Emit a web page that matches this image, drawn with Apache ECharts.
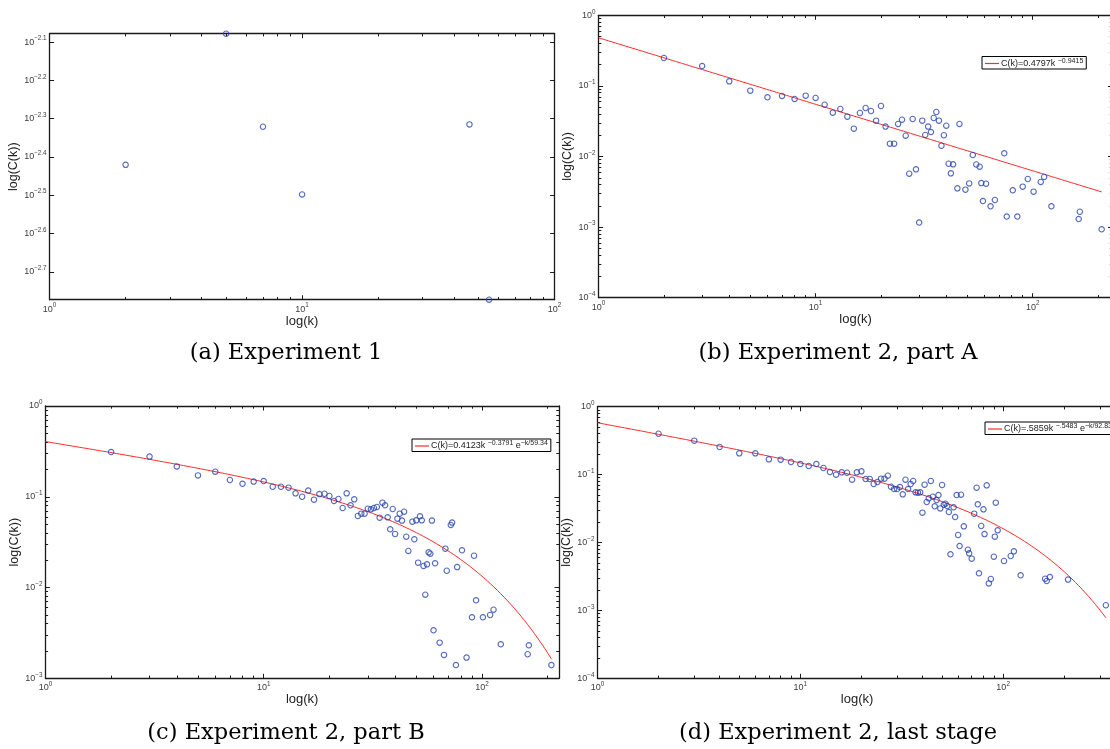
<!DOCTYPE html>
<html><head><meta charset="utf-8">
<script src="https://cdn.jsdelivr.net/npm/echarts@6/dist/echarts.min.js"></script>
<style>html,body{margin:0;padding:0;background:#fff}#c{width:1110px;height:749px}</style>
</head><body><div id="c"></div>
<script>
// ================= DATA =================
// (a) Experiment 1
const kA = [2, 5, 7, 10, 46, 55];
const cA = [0.003797, 0.008356, 0.004775, 0.003177, 0.004842, 0.001687];

// (b) Experiment 2, part A
const kB = [2,3,4,5,6,7,8,9,10,11,12,13,14,15,16,17,18,19,20,21,22,23,24,25,26,27,28,29,30,31,32,33,34,35,36,37,38,39,40,41,42,43,
  45,46,49,51,53,55,57,58,59,61,64,67,74,76,81,85,90,95,101,109,113,122,163,165,208];
const cB = [0.2486,0.191,0.116,0.0857,0.0689,0.072,0.0653,0.0728,0.0675,0.0542,0.0418,0.0471,0.0367,0.0248,0.0413,0.0486,0.0441,0.0322,0.0519,0.0265,
  0.0152,0.0152,0.0289,0.0332,0.0197,0.00571,0.034,0.00658,0.00116,0.0322,0.0202,0.0265,0.0222,0.0351,0.0427,0.0322,0.0142,0.0200,0.0273,0.0079,
  0.00577,0.00774,0.00354,0.0289,0.00339,0.00416,0.0105,0.0077,0.00717,0.0042,0.00234,0.00412,0.00197,0.00242,0.0111,0.00141,0.00332,0.00141,
  0.00374,0.0048,0.00318,0.00436,0.00513,0.00197,0.0013,0.00165,0.00093];

// (c) Experiment 2, part B
const kC = [2,3,4,5,6,7,8,9,10,11,12,13,14,15,16,17,18,19,20,21,22,23,24,25,26,27,28,29,30,31,32,33,34,35,36,37,38,39,40,41,42,43,44,45,46,
  48,49,50,51,52,53,54,55,56,57,58,59,60,61,64,67,68,69,72,73,76,77,81,85,90,92,94,101,109,113,122,162,164,208];
const cC = [0.311,0.277,0.216,0.172,0.189,0.153,0.139,0.147,0.149,0.129,0.129,0.126,0.109,0.100,0.117,0.0929,0.107,0.108,0.102,0.0898,
  0.0945,0.0752,0.109,0.0805,0.0937,0.0614,0.0652,0.0652,0.0739,0.0727,0.0752,0.0771,0.0589,0.0861,0.0805,0.0593,0.0438,0.0733,0.0389,0.0574,
  0.0652,0.0546,0.0685,0.0363,0.0253,
  0.0532,0.0340,0.0550,0.0188,0.0609,0.0550,0.0173,0.00834,0.018,0.0244,0.0236,0.0546,0.00338,0.0185,0.00247,0.00181,0.0268,0.0153,0.0489,
  0.0519,0.0014,0.0168,0.0257,0.00169,0.0047,0.0224,0.00723,0.0047,0.00498,0.0057,0.00237,0.00184,0.00231,0.0014];

// (d) Experiment 2, last stage
const kD = [2,3,4,5,6,7,8,9,10,11,12,13,14,15,16,17,18,19,20,21,22,23,24,25,26,27,28,29,30,31,32,33,34,35,36,37,38,39,40,41,42,43,44,45,46,
  47,48,49,50,51,52,53,54,55,
  57,58,59,60,61,62,64,67,68,70,72,74,75,76,78,80,81,83,85,87,90,91,92,94,101,109,113,122,161,164,170,209,321];
const cD = [0.40,0.316,0.255,0.2055,0.2055,0.1677,0.166,0.1532,0.143,0.1338,0.143,0.125,0.109,0.0997,0.108,0.1067,0.0841,0.108,0.1117,0.0861,
  0.0861,0.0727,0.0778,0.0871,0.0871,0.0964,0.0664,0.0613,0.0613,0.0656,0.0512,0.0841,0.0613,0.0727,0.0805,0.0548,0.0542,0.0548,0.0275,0.0711,
  0.0395,0.0447,0.0805,0.0473,0.0341,0.0422,0.05,0.0318,0.0703,0.036,0.0373,0.0345,0.0281,0.0067,
  0.033,0.0237,0.05,0.0129,0.00887,0.0506,0.0173,0.00784,0.00692,0.00578,0.0266,0.0641,0.0365,0.00352,0.0175,0.0308,0.0133,0.0695,0.0025,
  0.0029,0.00618,0.0122,0.0386,0.0151,0.00534,0.00633,0.00741,0.00329,0.00293,0.00271,0.0031,0.00284,0.00119];

// fitted models shown in the legends: C(k) = a * k^(-p) * exp(-k/kc)
const fitB = {a: 0.4797, p: 0.9415, kc: null};
const fitC = {a: 0.4123, p: 0.3791, kc: 59.34};
const fitD = {a: 0.5859, p: 0.5483, kc: 92.83};
const legendB = '{m|C(k)=0.4797k }{s|\u22120.9415}';
const legendC = '{m|C(k)=0.4123k }{s|\u22120.3791}{m| e}{s|\u2212k/59.34}';
const legendD = '{m|C(k)=.5859k }{s|\u2212.5483}{m| e}{s|\u2212k/92.83}';

// tick label exponents (powers of ten)
const xTicksA = [0, 1, 2];
const yTicksA = [-2.1, -2.2, -2.3, -2.4, -2.5, -2.6, -2.7];
const xTicksB = [0, 1, 2];
const yTicksB = [-4, -3, -2, -1, 0];
const xTicksC = [0, 1, 2];
const yTicksC = [-3, -2, -1, 0];
const xTicksD = [0, 1, 2];
const yTicksD = [-4, -3, -2, -1, 0];

const captions = ['(a) Experiment 1', '(b) Experiment 2, part A', '(c) Experiment 2, part B', '(d) Experiment 2, last stage'];

// ================= BUILD =================
const L = Math.log10;
const FONT = 'Liberation Sans';
const AX = '#1a1a1a';
const LBL = '#3c3c3c';

function minorTicks(lo, hi) {
  const out = [];
  for (let n = Math.floor(lo); n < Math.ceil(hi); n++)
    for (let j = 2; j <= 9; j++) { const v = n + L(j); if (v > lo + 1e-9 && v < hi - 1e-9) out.push(v); }
  return out;
}
function expStr(v) {
  const r = Math.round(v * 10) / 10;
  const s = Number.isInteger(r) ? String(r) : r.toFixed(1);
  return s.replace('-', '\u2212');
}
function supLabel(v) { return '{b|10}{s|' + expStr(v) + '}'; }
const richTick = {
  b: {fontSize: 9, color: LBL, fontFamily: FONT},
  s: {fontSize: 6.3, color: LBL, fontFamily: FONT, padding: [0, 0, 7, 0]}
};

function axesFor(dim, g, range, majors, minors, nameCfg) {
  const pos = dim === 'x' ? ['bottom', 'top'] : ['left', 'right'];
  const list = [];
  pos.forEach((p, i) => {
    list.push({
      type: 'value', gridIndex: g, min: range[0], max: range[1], position: p,
      splitLine: {show: false}, silent: true,
      axisLine: {show: true, onZero: false, lineStyle: {color: AX, width: 1.3}},
      axisTick: {show: true, inside: true, length: 4.5, customValues: majors, lineStyle: {color: AX, width: 1}},
      axisLabel: i === 0 ? {show: true, customValues: majors, formatter: supLabel, rich: richTick, margin: 3} : {show: false},
      name: i === 0 ? nameCfg.text : '',
      nameLocation: 'middle', nameGap: nameCfg.gap,
      nameTextStyle: {fontFamily: FONT, fontSize: dim === 'x' ? 13 : 12.5, color: '#222'}
    });
    list.push({
      type: 'value', gridIndex: g, min: range[0], max: range[1], position: p,
      splitLine: {show: false}, silent: true,
      axisLine: {show: false, onZero: false},
      axisTick: {show: minors.length > 0, inside: true, length: 2.7,
                 customValues: minors.length ? minors : [range[0]], lineStyle: {color: AX, width: 1}},
      axisLabel: {show: false}
    });
  });
  return list;
}

function fitPoints(fit, kmax) {
  const pts = [], N = 150;
  for (let i = 0; i <= N; i++) {
    const lk = L(kmax) * i / N, k = Math.pow(10, lk);
    const c = fit.a * Math.pow(k, -fit.p) * (fit.kc ? Math.exp(-k / fit.kc) : 1);
    pts.push([lk, L(c)]);
  }
  return pts;
}
const toLog = (ks, cs) => ks.map((k, i) => [L(k), L(cs[i])]);

const panels = [
  {grid: {left: 49.6, top: 33.7, width: 505, height: 266}, xr: [0, 2], yr: [L(Math.min(...cA)), L(Math.max(...cA))],
   xt: xTicksA, yt: yTicksA, yMinor: false, k: kA, c: cA, fit: null, xGap: 10, yGap: 26},
  {grid: {left: 598.6, top: 15.3, width: 513.9, height: 282.4}, xr: [0, 2.368], yr: [-4, 0],
   xt: xTicksB, yt: yTicksB, yMinor: true, k: kB, c: cB, fit: fitB, name: 'fitB', xGap: 13, yGap: 22},
  {grid: {left: 45.4, top: 406, width: 513.6, height: 272.3}, xr: [0, 2.353], yr: [-3, 0],
   xt: xTicksC, yt: yTicksC, yMinor: true, k: kC, c: cC, fit: fitC, name: 'fitC', xGap: 14, yGap: 22},
  {grid: {left: 597.5, top: 406.7, width: 519.2, height: 271.6}, xr: [0, 2.56], yr: [-4, 0],
   xt: xTicksD, yt: yTicksD, yMinor: true, k: kD, c: cD, fit: fitD, name: 'fitD', xGap: 14, yGap: 21.5}
];

const grids = [], xAxes = [], yAxes = [], series = [];
panels.forEach((P, g) => {
  grids.push(Object.assign({show: false, containLabel: false, outerBoundsMode: 'none'}, P.grid));
  xAxes.push(...axesFor('x', g, P.xr, P.xt, minorTicks(P.xr[0], P.xr[1]), {text: 'log(k)', gap: P.xGap}));
  yAxes.push(...axesFor('y', g, P.yr, P.yt, P.yMinor ? minorTicks(P.yr[0], P.yr[1]) : [], {text: 'log(C(k))', gap: P.yGap}));
  if (P.fit) {
    series.push({
      name: P.name, type: 'line', xAxisIndex: 4 * g, yAxisIndex: 4 * g, data: fitPoints(P.fit, Math.max(...P.k)),
      symbol: 'none', showSymbol: false, clip: false, z: 2,
      lineStyle: {color: '#ff2a2a', width: 1}, itemStyle: {color: '#ff2a2a'}
    });
  }
  series.push({
    type: 'scatter', xAxisIndex: 4 * g, yAxisIndex: 4 * g, data: toLog(P.k, P.c),
    symbol: 'circle', symbolSize: 5.4, clip: false, z: 3,
    itemStyle: {color: 'rgba(0,0,0,0)', borderColor: '#2845b0', borderWidth: 1.1}
  });
});

const legRich = {
  m: {fontSize: 9, fontFamily: FONT, color: '#222', lineHeight: 12},
  s: {fontSize: 7, fontFamily: FONT, color: '#222', padding: [0, 0, 5, 0]}
};
function legendFor(name, text, left, top) {
  return {
    data: [{name: name, icon: 'rect'}], left: left, top: top, orient: 'horizontal', selectedMode: false,
    borderColor: '#000', borderWidth: 1, backgroundColor: '#fff', borderRadius: 0,
    padding: [1, 3, 1, 3], itemWidth: 14, itemHeight: 1.2, itemGap: 0,
    itemStyle: {color: '#ff2a2a', borderWidth: 0},
    formatter: () => text, textStyle: {rich: legRich, padding: [0, 0, 0, -3]}
  };
}

const titlePos = [[286, 342], [838, 342], [286, 722], [838, 722]];
const titles = captions.map((t, i) => ({
  text: t, left: titlePos[i][0], top: titlePos[i][1], textAlign: 'center', padding: 0,
  textStyle: {fontFamily: 'DejaVu Serif', fontSize: 22.5, fontWeight: 'normal', color: '#000'}
}));

const chart = echarts.init(document.getElementById('c'), null, {renderer: 'canvas'});
chart.setOption({
  backgroundColor: '#fff',
  animation: false,
  title: titles,
  legend: [legendFor('fitB', legendB, 982, 56.5), legendFor('fitC', legendC, 412, 439), legendFor('fitD', legendD, 985, 422)],
  grid: grids,
  xAxis: xAxes,
  yAxis: yAxes,
  series: series
});
</script>
</body></html>
